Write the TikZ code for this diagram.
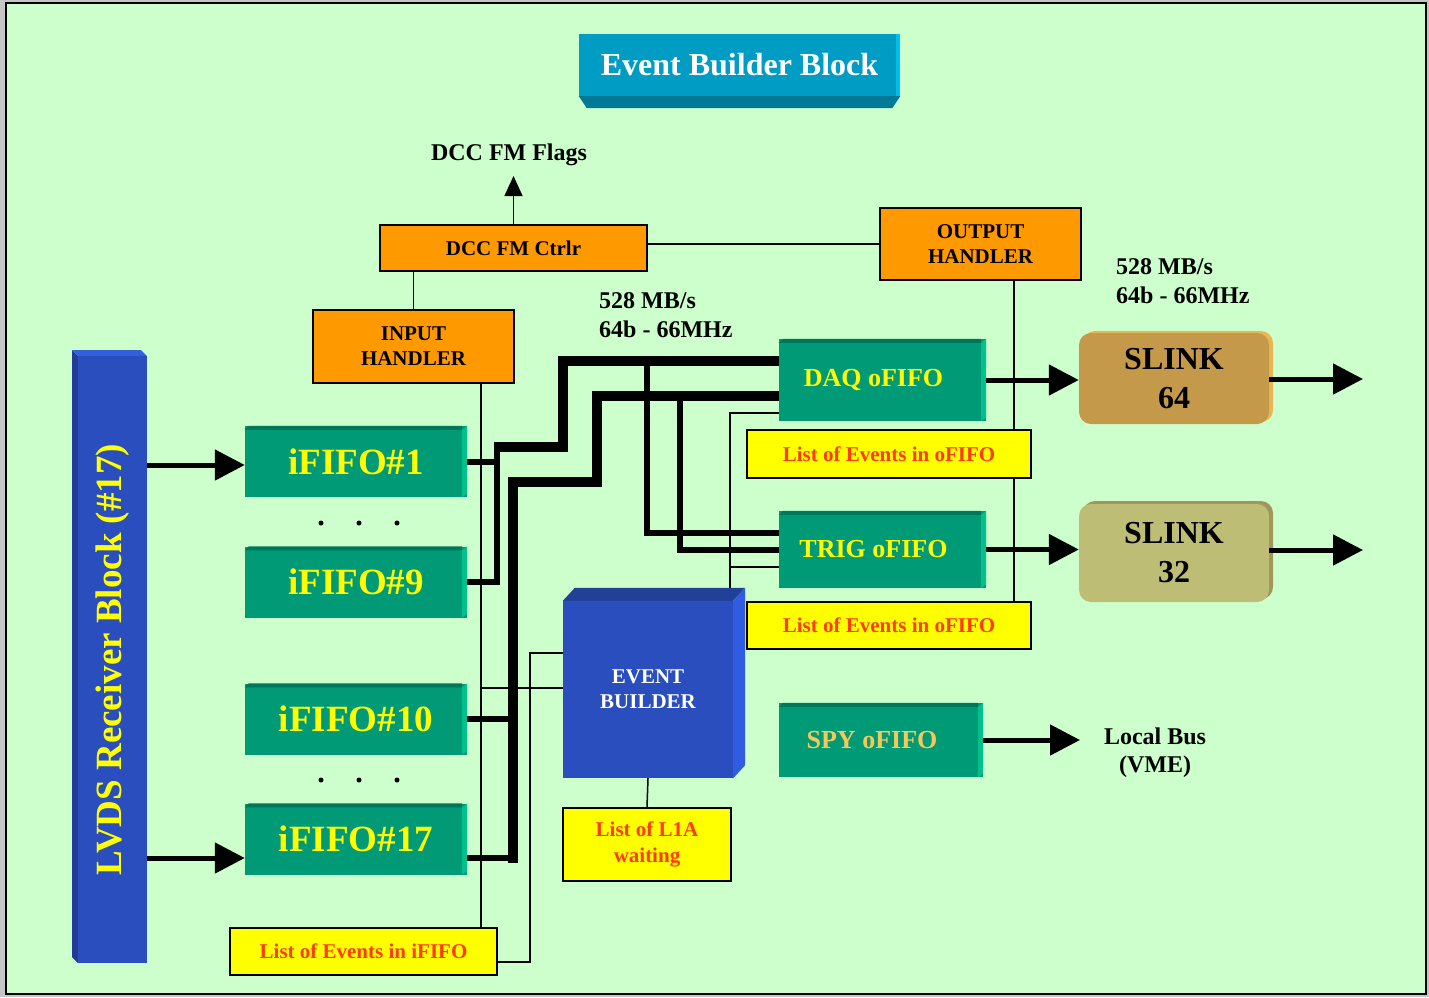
\documentclass[tikz,border=0pt]{standalone}
\usepackage{fontspec}
\setmainfont{Liberation Serif}
\usetikzlibrary{arrows.meta,shadows}
\definecolor{bggreen}{RGB}{204,255,204}
\definecolor{fifogreen}{RGB}{0,155,118}
\definecolor{fifodark}{RGB}{0,118,90}
\definecolor{fifolight}{RGB}{0,192,140}
\definecolor{fifoyellow}{RGB}{255,255,0}
\definecolor{spyorange}{RGB}{245,200,90}
\definecolor{ctrlorange}{RGB}{255,153,0}
\definecolor{listyellow}{RGB}{255,255,0}
\definecolor{listred}{RGB}{255,60,0}
\definecolor{lvdsblue}{RGB}{42,78,190}
\definecolor{lvdsdark}{RGB}{32,60,150}
\definecolor{lvdslight}{RGB}{50,95,220}
\definecolor{ebtopblue}{RGB}{33,64,152}
\definecolor{ebsideblue}{RGB}{47,92,224}
\definecolor{titleblue}{RGB}{0,156,196}
\definecolor{titledark}{RGB}{0,120,150}
\definecolor{titlelight}{RGB}{0,190,230}
\definecolor{slinkgold}{RGB}{196,153,74}
\definecolor{slinkgoldedge}{RGB}{232,182,85}
\definecolor{slinkolive}{RGB}{189,189,117}
\definecolor{slinkoliveedge}{RGB}{160,152,90}

\begin{document}
\begin{tikzpicture}[x=1pt,y=-1pt,
  fifo/.style={fill=fifogreen,text=fifoyellow,minimum width=222pt,minimum height=71pt,
    inner sep=0pt,font=\bfseries\fontsize{37}{40}\selectfont},
  ofifo/.style={fifo,minimum width=207pt,font=\bfseries\fontsize{26}{30}\selectfont,
    execute at end node={\hspace{18pt}}},
  ctrl/.style={draw,line width=1.5pt,fill=ctrlorange,align=center,inner sep=0pt,
    font=\bfseries\fontsize{21}{25}\selectfont},
  evlist/.style={draw,line width=1.5pt,fill=listyellow,text=listred,align=center,inner sep=0pt,
    font=\bfseries\fontsize{21}{26}\selectfont},
  slink/.style={rounded corners=12pt,minimum width=190pt,inner sep=0pt,align=center,
    font=\bfseries\fontsize{32}{39}\selectfont},
  lbl/.style={inner sep=0pt,font=\bfseries\fontsize{24}{29}\selectfont},
  wire/.style={line width=1.5pt},
  stub/.style={line width=6pt},
  bus/.style={line width=10pt},
  bigarrow/.style={line width=5pt,-{Triangle[length=30pt,width=30pt]}}]
  \useasboundingbox (0,0) rectangle (1429,997);
  \fill[gray!45] (0,0) rectangle (1429,997);
  \draw[line width=2pt,fill=bggreen] (6,3) rectangle (1426,994);

  % title
  \node[fill=titleblue,text=white,minimum width=321pt,minimum height=62pt,inner sep=0pt,
    font=\bfseries\fontsize{32}{36}\selectfont] (title) at (739.5,65) {Event Builder Block};
  \fill[titledark] (title.south west) -- (title.south east) -- ++(-8,12)
    -- ([xshift=8pt,yshift=-12pt]title.south west) -- cycle;
  \fill[titlelight] ([xshift=-4pt]title.north east) rectangle (title.south east);

  % receiver block
  \fill[lvdsdark] (72,350) -- (78,356) -- (78,963) -- (72,957) -- cycle;
  \fill[lvdslight] (72,350) -- (141,350) -- (147,356) -- (78,356) -- cycle;
  \node[rotate=90,fill=lvdsblue,text=fifoyellow,minimum width=607pt,minimum height=69pt,
    inner sep=0pt,font=\bfseries\fontsize{37}{40}\selectfont] (lvds) at (112.5,659.5)
    {LVDS Receiver Block (\#17)};

  % input fifos
  \node[fifo] (if1) at (356,461.5) {iFIFO\#1};
  \node[fifo] (if9) at (356,582) {iFIFO\#9};
  \node[fifo] (if10) at (356,719) {iFIFO\#10};
  \node[fifo] (if17) at (356,839) {iFIFO\#17};
  \foreach \x in {321,359,397} {
    \fill (\x,523) circle (2.5pt);
    \fill (\x,780) circle (2.5pt);
  }

  % output fifos
  \node[ofifo,minimum height=82pt] (daq) at (882.5,380) {DAQ oFIFO};
  \node[ofifo,minimum height=77pt] (trig) at (882.5,549.5) {TRIG oFIFO};
  \node[ofifo,minimum width=204pt,minimum height=74pt,text=spyorange] (spy) at (881,740) {SPY oFIFO};
  \foreach \n in {if1,if9,if10,if17,daq,trig,spy} {
    \fill[fifodark] ([xshift=4pt]\n.north west) -- ([xshift=-5pt]\n.north east)
      -- ([xshift=-5pt,yshift=-4pt]\n.north east) -- ([yshift=-4pt]\n.north west) -- cycle;
    \fill[fifolight] ([xshift=-5pt,yshift=-4pt]\n.north east) -- (\n.north east)
      -- ([yshift=4pt]\n.south east) -- ([xshift=-5pt]\n.south east) -- cycle;
  }

  % handlers
  \node[ctrl,minimum width=201pt,minimum height=73pt] (inh) at (413.5,346.5) {INPUT\\HANDLER};
  \node[ctrl,minimum width=267pt,minimum height=46pt] (fmc) at (513.5,248) {DCC FM Ctrlr};
  \node[ctrl,minimum width=201pt,minimum height=72pt] (outh) at (980.5,244) {OUTPUT\\HANDLER};

  % event lists
  \node[evlist,minimum width=284pt,minimum height=48pt] (lst1) at (889,454) {List of Events in oFIFO};
  \node[evlist,minimum width=284pt,minimum height=47pt] (lst2) at (889,625.5) {List of Events in oFIFO};
  \node[evlist,minimum width=267pt,minimum height=47pt] (lsti) at (363.5,951.5) {List of Events in iFIFO};
  \node[evlist,minimum width=168pt,minimum height=73pt] (l1a) at (647,844.5) {List of L1A\\waiting};

  % event builder
  \node[fill=lvdsblue,text=white,minimum width=170pt,minimum height=177pt,align=center,
    inner sep=0pt,font=\bfseries\fontsize{21}{25}\selectfont] (eb) at (648,689.5) {EVENT\\BUILDER};
  \fill[ebtopblue] (eb.north west) -- ++(12,-13) -- ([xshift=12pt,yshift=13pt]eb.north east)
    -- (eb.north east) -- cycle;
  \fill[ebsideblue] (eb.north east) -- ++(12,-13) -- ([xshift=12pt,yshift=13pt]eb.south east)
    -- (eb.south east) -- cycle;

  % slinks
  \node[slink,fill=slinkgold,minimum height=91pt,
    general shadow={fill=slinkgoldedge,shadow xshift=4pt,shadow yshift=2pt}] (s64) at (1174,378.5) {SLINK\\64};
  \node[slink,fill=slinkolive,minimum height=98pt,
    general shadow={fill=slinkoliveedge,shadow xshift=4pt,shadow yshift=3pt}] (s32) at (1174,553) {SLINK\\32};

  % texts
  \node[lbl] (flags) at (509,155) {DCC FM Flags};
  \node[lbl,anchor=west,align=left] (rate1) at (599,315.5) {528 MB/s\\64b - 66MHz};
  \node[lbl,anchor=west,align=left] (rate2) at (1116,281) {528 MB/s\\64b - 66MHz};
  \node[lbl,align=center,font=\bfseries\fontsize{24}{28}\selectfont] (vme) at (1155,753) {Local Bus\\(VME)};

  % control wires
  \coordinate (flagtip) at (513.5,176);
  \coordinate (ebtop) at (730,588);
  \draw[wire,-{Triangle[length=20pt,width=18pt]}] (fmc.north) -- (flagtip);
  \draw[wire] (outh.west) -- (outh.west -| fmc.east);
  \draw[wire] (inh.north) -- (inh.north |- fmc.south);
  \draw[wire] (inh.south -| 481,0) -- (lsti.north -| 481,0);
  \draw[wire] (481,688) -- (eb.west |- 0,688);
  \draw[wire] (eb.west |- 0,653) -| (530,962) -- (lsti.east |- 0,962);
  \draw[wire] (ebtop) |- (daq.west |- 0,413);
  \draw[wire] (730,567) -- (trig.west |- 0,567);
  \draw[wire] (eb.south) -- (l1a.north);
  \draw[wire] (outh.south -| 1014,0) -- (lst1.north -| 1014,0);
  \draw[wire] (lst1.south -| 1014,0) -- (lst2.north -| 1014,0);

  % data buses
  \coordinate (j1) at (497,447);
  \draw[stub] (if1.east) -| (j1);
  \draw[stub] (if9.east) -| (j1);
  \draw[bus] (494,447) -- (563,447) -- (563,361) -- (daq.west |- 0,361);
  \draw[stub] (if10.east) -- (513,719);
  \draw[stub] ([yshift=-19pt]if17.east) -- (513,858);
  \draw[bus] (513,863) -- (513,482) -- (597,482) -- (597,396) -- (daq.west |- 0,396);
  \draw[stub] (647,361) |- ([yshift=17pt]trig.west);
  \draw[stub] (680,396) |- (trig.west);

  % big arrows
  \coordinate (s64out) at (1363,379);
  \coordinate (s32out) at (1363,550);
  \coordinate (vmetip) at (1080,740);
  \draw[bigarrow] (lvds.south |- 0,465) -- (if1.west |- 0,465);
  \draw[bigarrow] (lvds.south |- 0,858) -- (if17.west |- 0,858);
  \draw[bigarrow] (daq.east) -- (daq.east -| s64.west);
  \draw[bigarrow] (s64.east |- s64out) -- (s64out);
  \draw[bigarrow] (trig.east) -- (trig.east -| s32.west);
  \draw[bigarrow] (s32.east |- s32out) -- (s32out);
  \draw[bigarrow] (spy.east) -- (vmetip);
\end{tikzpicture}
\end{document}
